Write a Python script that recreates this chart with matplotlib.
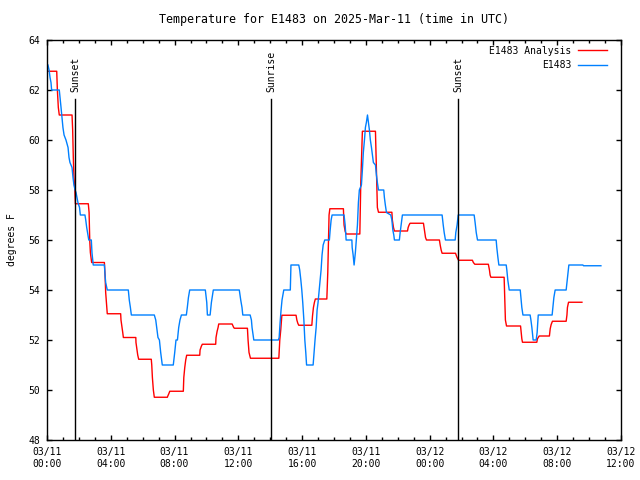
import matplotlib
matplotlib.use("Agg")
import matplotlib.pyplot as plt
from matplotlib.ticker import MultipleLocator

# hours since 03/11 00:00 UTC
obs_hours = [0.06, 0.13, 0.19, 0.25, 0.29, 0.77, 0.82, 0.88, 0.94, 1.00, 1.07, 1.19, 1.32, 1.38,
             1.44, 1.57, 1.63, 1.69, 1.76, 1.82, 1.88, 1.94, 2.04, 2.09, 2.38, 2.43, 2.49, 2.62,
             2.78, 2.82, 2.90, 3.60, 3.64, 3.68, 3.78, 5.10, 5.16, 5.23, 5.29, 6.73, 6.82, 6.88,
             6.96, 7.05, 7.13, 7.23, 7.92, 8.01, 8.09, 8.18, 8.26, 8.34, 8.43, 8.74, 8.80, 8.87,
             8.95, 9.93, 10.02, 10.06, 10.23, 10.31, 10.43, 12.06, 12.15, 12.23, 12.28, 12.74,
             12.82, 12.86, 12.97, 14.51, 14.56, 14.62, 14.68, 14.74, 14.85, 15.26, 15.30, 15.79,
             15.85, 15.92, 15.98, 16.04, 16.11, 16.17, 16.23, 16.28, 16.69, 16.75, 16.81, 16.88,
             16.94, 17.00, 17.07, 17.13, 17.19, 17.25, 17.32, 17.42, 17.71, 17.76, 17.82, 17.88,
             18.63, 18.70, 18.76, 19.12, 19.14, 19.20, 19.26, 19.34, 19.41, 19.47, 19.53, 19.59,
             19.72, 19.78, 19.84, 19.91, 19.97, 20.03, 20.10, 20.16, 20.22, 20.28, 20.35, 20.41,
             20.47, 20.60, 20.66, 20.72, 20.79, 21.12, 21.16, 21.22, 21.29, 21.56, 21.63, 21.69,
             21.75, 21.79, 22.10, 22.15, 22.21, 22.29, 24.78, 24.85, 24.91, 24.99, 25.60, 25.64,
             25.72, 25.79, 26.79, 26.85, 26.92, 27.00, 28.17, 28.21, 28.28, 28.34, 28.80, 28.84,
             28.90, 28.99, 29.68, 29.72, 29.78, 29.85, 30.30, 30.35, 30.41, 30.49, 30.68, 30.74,
             30.81, 31.68, 31.73, 31.79, 31.87, 32.56, 32.61, 32.67, 32.73, 33.61, 33.65, 34.74]
obs_temp = [63.0, 62.8, 62.5, 62.3, 62.0, 62.0, 61.7, 61.3, 60.9, 60.5, 60.2, 60.0, 59.7, 59.3,
            59.1, 58.9, 58.5, 58.2, 58.0, 57.9, 57.7, 57.5, 57.3, 57.0, 57.0, 56.8, 56.5, 56.0,
            56.0, 55.5, 55.0, 55.0, 54.6, 54.3, 54.0, 54.0, 53.6, 53.3, 53.0, 53.0, 52.8, 52.5,
            52.1, 52.0, 51.5, 51.0, 51.0, 51.5, 52.0, 52.0, 52.5, 52.8, 53.0, 53.0, 53.3, 53.7,
            54.0, 54.0, 53.5, 53.0, 53.0, 53.5, 54.0, 54.0, 53.6, 53.3, 53.0, 53.0,
            52.8, 52.5, 52.0, 52.0, 52.1, 52.7, 53.2, 53.6, 54.0, 54.0, 55.0, 55.0,
            54.8, 54.4, 54.0, 53.5, 52.8, 52.0, 51.5, 51.0, 51.0, 51.5, 52.0, 52.5,
            53.2, 53.5, 54.0, 54.4, 54.8, 55.4, 55.8, 56.0, 56.0, 56.4, 56.8, 57.0,
            57.0, 56.6, 56.0, 56.0, 55.7, 55.4, 55.0, 55.5, 56.1, 56.6, 57.5, 58.0,
            58.2, 58.8, 59.5, 60.0, 60.5, 60.7, 61.0, 60.7, 60.4, 60.0, 59.7, 59.4,
            59.1, 59.0, 58.6, 58.3, 58.0, 58.0, 57.7, 57.4, 57.1, 57.0, 56.8, 56.4,
            56.2, 56.0, 56.0, 56.3, 56.6, 57.0, 57.0, 56.6, 56.3, 56.0, 56.0, 56.3,
            56.6, 57.0, 57.0, 56.7, 56.3, 56.0, 56.0, 55.7, 55.3, 55.0, 55.0, 54.8,
            54.4, 54.0, 54.0, 53.7, 53.3, 53.0, 53.0, 52.8, 52.5, 52.0, 52.0, 52.3,
            53.0, 53.0, 53.3, 53.7, 54.0, 54.0, 54.3, 54.7, 55.0, 55.0, 54.97, 54.97]

ana_hours = [0.08, 0.61, 0.65, 0.71, 0.77, 1.57, 1.61, 1.65, 1.69, 1.74, 1.78, 2.59, 2.64, 2.68,
             2.72, 2.80, 3.60, 3.64, 3.68, 3.75, 3.78, 4.62, 4.64, 4.71, 4.75, 4.79, 5.57, 5.58,
             5.65, 5.69, 5.75, 6.54, 6.57, 6.61, 6.67, 6.73, 7.55, 7.57, 7.64, 7.70, 8.55, 8.58,
             8.64, 8.70, 8.76, 9.58, 9.60, 9.68, 9.74, 10.58, 10.60, 10.67, 10.73, 10.77, 11.61,
             11.65, 11.71, 11.75, 12.57, 12.61, 12.67, 12.76, 14.54, 14.60, 14.66, 14.73, 15.62,
             15.67, 15.73, 15.79, 16.61, 16.65, 16.71, 16.77, 16.83, 17.55, 17.57, 17.61, 17.65,
             17.69, 17.74, 18.59, 18.63, 18.70, 18.76, 19.62, 19.64, 19.68, 19.74, 19.78, 20.60,
             20.64, 20.69, 20.72, 20.79, 21.63, 21.66, 21.73, 21.79, 22.61, 22.65, 22.71, 22.77,
             23.61, 23.67, 23.74, 23.80, 24.61, 24.66, 24.72, 24.78, 25.62, 25.66, 25.72, 25.81,
             26.68, 26.74, 26.83, 27.68, 27.75, 27.79, 27.84, 28.67, 28.72, 28.75, 28.82, 29.70,
             29.74, 29.78, 29.82, 30.72, 30.76, 30.83, 30.87, 31.51, 31.56, 31.62, 31.70, 32.56,
             32.61, 32.64, 32.71, 33.55]
ana_temp = [62.75, 62.75, 62.0, 61.3, 61.0, 61.0, 60.4, 59.3, 58.5, 58.1, 57.45, 57.45, 57.1, 56.0,
            55.5, 55.1, 55.1, 54.6, 53.9, 53.3, 53.05, 53.05, 52.8, 52.5, 52.3, 52.1, 52.1, 51.9,
            51.6, 51.4, 51.23, 51.23, 51.0, 50.5, 50.0, 49.71, 49.71, 49.75, 49.85, 49.95, 49.95, 50.5,
            50.9, 51.2, 51.39, 51.39, 51.6, 51.75, 51.83, 51.83, 52.1, 52.35, 52.5, 52.64, 52.64,
            52.58, 52.5, 52.47, 52.47, 52.0, 51.5, 51.27, 51.27, 52.0, 52.4, 52.99, 52.99,
            52.8, 52.67, 52.59, 52.59, 52.95, 53.3, 53.5, 53.64, 53.64, 54.0, 54.7, 55.8,
            57.0, 57.25, 57.25, 56.6, 56.35, 56.24, 56.24, 57.0, 58.3, 59.5, 60.35, 60.35,
            59.3, 58.0, 57.3, 57.11, 57.11, 56.8, 56.5, 56.36, 56.36, 56.5, 56.6, 56.67,
            56.67, 56.4, 56.1, 56.0, 56.0, 55.8, 55.6, 55.47, 55.47, 55.4, 55.3, 55.19,
            55.19, 55.1, 55.03, 55.03, 54.8, 54.6, 54.51, 54.51, 53.5, 52.8, 52.56, 52.56,
            52.3, 52.05, 51.91, 51.91, 52.05, 52.12, 52.16, 52.16, 52.45, 52.62, 52.75, 52.75,
            53.0, 53.3, 53.51, 53.51]

event_hours = [1.76, 14.05, 25.79]
event_names = ["Sunset", "Sunrise", "Sunset"]

tick_hours = [0, 4, 8, 12, 16, 20, 24, 28, 32, 36]
tick_labels = ["03/11\n00:00", "03/11\n04:00", "03/11\n08:00", "03/11\n12:00", "03/11\n16:00",
               "03/11\n20:00", "03/12\n00:00", "03/12\n04:00", "03/12\n08:00", "03/12\n12:00"]

plt.rcParams['font.family'] = 'DejaVu Sans Mono'
plt.rcParams['font.size'] = 7

fig = plt.figure(figsize=(6.4, 4.8), dpi=100)
ax = fig.add_axes([47/640, 40/480, 574/640, 400/480])

ax.plot(ana_hours, ana_temp, color='#ff0000', lw=1.0, label='E1483 Analysis')
ax.plot(obs_hours, obs_temp, color='#0080ff', lw=1.0, label='E1483')

# sunset / sunrise markers, label sits above the line
for h, name in zip(event_hours, event_names):
    ax.plot([h, h], [48, 61.65], color='black', lw=1.0)
    ax.text(h, 61.9, name, rotation=90, ha='center', va='bottom')

ax.set_xlim(0, 36)
ax.set_ylim(48, 64)
ax.set_xticks(tick_hours)
ax.set_xticklabels(tick_labels)
ax.xaxis.set_minor_locator(MultipleLocator(1))
ax.set_yticks(range(48, 65, 2))
ax.tick_params(which='both', direction='in', top=True, right=True, width=1.0)
ax.tick_params(which='major', length=3.6, pad=5)
ax.tick_params(which='minor', length=2.2)
for s in ax.spines.values():
    s.set_linewidth(1.0)

ax.set_ylabel('degrees F', labelpad=8)
ax.set_title('Temperature for E1483 on 2025-Mar-11 (time in UTC)', pad=12)
ax.legend(loc='upper right', bbox_to_anchor=(0.985, 1.0), frameon=False, markerfirst=False,
          handlelength=2.9, handletextpad=0.7, labelspacing=0.45, borderaxespad=0.2)

fig.savefig('out.png', dpi=100)
